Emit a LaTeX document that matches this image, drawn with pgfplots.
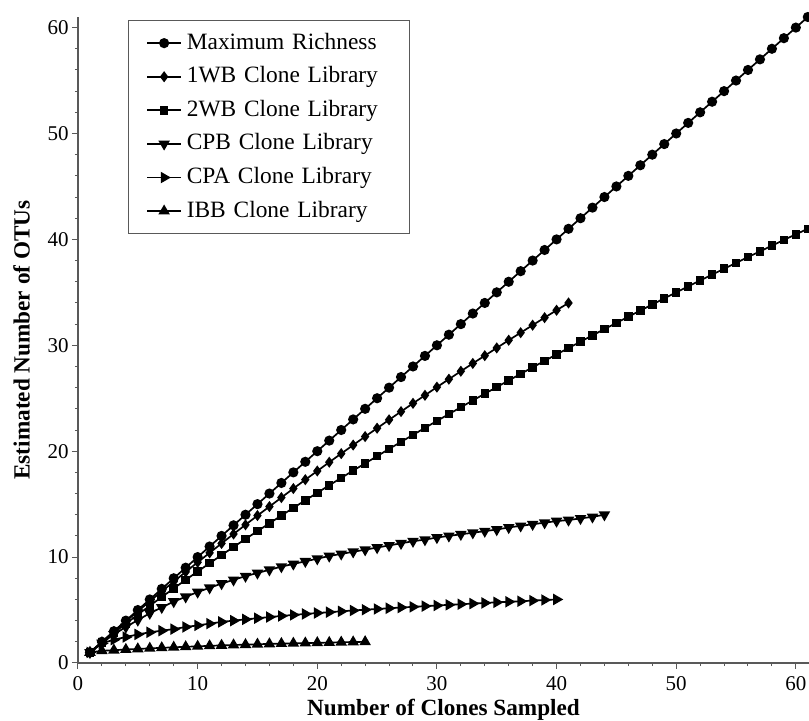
\documentclass[border=0pt]{standalone}
\usepackage{fontspec}
\setmainfont{Liberation Serif}
\usepackage{pgfplots}
\pgfplotsset{compat=1.18}
\usepackage{pgfplotstable}

\pgfplotstableread{
x y
1 1
2 2
3 3
4 4
5 5
6 6
7 7
8 8
9 9
10 10
11 11
12 12
13 13
14 14
15 15
16 16
17 17
18 18
19 19
20 20
21 21
22 22
23 23
24 24
25 25
26 26
27 27
28 28
29 29
30 30
31 31
32 32
33 33
34 34
35 35
36 36
37 37
38 38
39 39
40 40
41 41
42 42
43 43
44 44
45 45
46 46
47 47
48 48
49 49
50 50
51 51
52 52
53 53
54 54
55 55
56 56
57 57
58 58
59 59
60 60
61 61
}\tblMR

\pgfplotstableread{
x y
1 1
2 1.99
3 2.97
4 3.93
5 4.88
6 5.83
7 6.76
8 7.68
9 8.60
10 9.51
11 10.40
12 11.29
13 12.18
14 13.05
15 13.92
16 14.77
17 15.62
18 16.47
19 17.31
20 18.13
21 18.96
22 19.77
23 20.58
24 21.38
25 22.17
26 22.96
27 23.74
28 24.52
29 25.28
30 26.05
31 26.80
32 27.55
33 28.29
34 29.02
35 29.75
36 30.48
37 31.19
38 31.90
39 32.61
40 33.31
41 34.00
}\tblOneWB

\pgfplotstableread{
x y
1 1
2 1.94
3 2.84
4 3.71
5 4.57
6 5.41
7 6.23
8 7.04
9 7.85
10 8.64
11 9.42
12 10.19
13 10.95
14 11.71
15 12.45
16 13.19
17 13.92
18 14.65
19 15.36
20 16.07
21 16.78
22 17.48
23 18.17
24 18.85
25 19.53
26 20.21
27 20.88
28 21.54
29 22.20
30 22.86
31 23.50
32 24.15
33 24.79
34 25.43
35 26.05
36 26.68
37 27.30
38 27.92
39 28.53
40 29.14
41 29.74
42 30.34
43 30.94
44 31.53
45 32.11
46 32.70
47 33.28
48 33.85
49 34.43
50 34.99
51 35.56
52 36.12
53 36.67
54 37.23
55 37.78
56 38.33
57 38.87
58 39.41
59 39.95
60 40.48
61 41.00
}\tblTwoWB

\pgfplotstableread{
x y
1 1
2 1.9
3 2.7
4 3.4
5 4.05
6 4.7
7 5.25
8 5.8
9 6.25
10 6.7
11 7.1
12 7.5
13 7.85
14 8.2
15 8.5
16 8.8
17 9.1
18 9.35
19 9.6
20 9.85
21 10.1
22 10.3
23 10.5
24 10.7
25 10.9
26 11.1
27 11.3
28 11.5
29 11.65
30 11.85
31 12.0
32 12.15
33 12.3
34 12.45
35 12.6
36 12.8
37 12.95
38 13.1
39 13.25
40 13.4
41 13.5
42 13.65
43 13.8
44 14.0
}\tblCPB

\pgfplotstableread{
x y
1 1
2 1.85
3 2.2
4 2.45
5 2.7
6 2.9
7 3.05
8 3.2
9 3.4
10 3.55
11 3.72
12 3.88
13 4.0
14 4.12
15 4.23
16 4.34
17 4.44
18 4.54
19 4.63
20 4.72
21 4.8
22 4.88
23 4.96
24 5.03
25 5.1
26 5.17
27 5.24
28 5.3
29 5.37
30 5.43
31 5.49
32 5.55
33 5.61
34 5.67
35 5.73
36 5.78
37 5.83
38 5.89
39 5.95
40 6.0
}\tblCPA

\pgfplotstableread{
x y
1 1
2 1.15
3 1.21
4 1.27
5 1.33
6 1.38
7 1.43
8 1.48
9 1.53
10 1.57
11 1.62
12 1.66
13 1.70
14 1.73
15 1.77
16 1.80
17 1.83
18 1.86
19 1.88
20 1.91
21 1.93
22 1.96
23 1.98
24 2.0
}\tblIBB

\begin{document}
\begin{tikzpicture}
\begin{axis}[
  scale only axis, width=365.5pt, height=323pt,
  xmin=0, xmax=61.1, ymin=0, ymax=61,
  axis lines=left,
  axis line style={-, black!65, line width=0.6pt},
  xtick={0,10,...,60}, ytick={0,10,...,60},
  minor tick num=4,
  tick align=outside, major tick length=3pt, minor tick length=1.6pt,
  tick style={black!65, line width=0.5pt},
  ticklabel style={font=\fontsize{10.5}{12}\selectfont},
  yticklabel style={inner xsep=1.5pt},
  /pgf/number format/assume math mode=true,
  xlabel={Number of Clones Sampled},
  ylabel={Estimated Number of OTUs},
  label style={font=\fontsize{11.6}{14}\selectfont\bfseries},
  xlabel style={at={(axis description cs:0.5,-0.073)}, anchor=center},
  ylabel style={at={(axis description cs:-0.077,0.5)}, anchor=center},
  legend cell align=left,
  legend style={at={(0.068,0.995)}, anchor=north west, draw=black!65,
    line width=0.5pt, font=\fontsize{11.7}{14}\selectfont,
    inner xsep=9pt, inner ysep=2.8pt,
    nodes={inner sep=2.4pt, text height=9pt, text depth=3pt, text width=100pt, align=left}},
  every axis plot/.append style={black, line width=0.85pt},
]
\addplot[mark=*, mark size=2.1pt, mark options={solid, fill=black}] table {\tblMR};
\addlegendentry{Maximum Richness}
\addplot[mark=diamond*, mark size=2.1pt, mark options={solid, fill=black}] table {\tblOneWB};
\addlegendentry{1WB Clone Library}
\addplot[mark=square*, mark size=1.7pt, mark options={solid, fill=black}] table {\tblTwoWB};
\addlegendentry{2WB Clone Library}
\addplot[mark=triangle*, mark size=2.5pt, mark options={solid, fill=black, rotate=180}] table {\tblCPB};
\addlegendentry{CPB Clone Library}
\addplot[mark=triangle*, mark size=2.5pt, mark options={solid, fill=black, rotate=-90}] table {\tblCPA};
\addlegendentry{CPA Clone Library}
\addplot[mark=triangle*, mark size=2.5pt, mark options={solid, fill=black}] table {\tblIBB};
\addlegendentry{IBB Clone Library}
\end{axis}
\pgfresetboundingbox
\path ([xshift=-39pt,yshift=-29pt]current axis.south west) rectangle ([yshift=8.5pt]current axis.north east);
\end{tikzpicture}
\end{document}
